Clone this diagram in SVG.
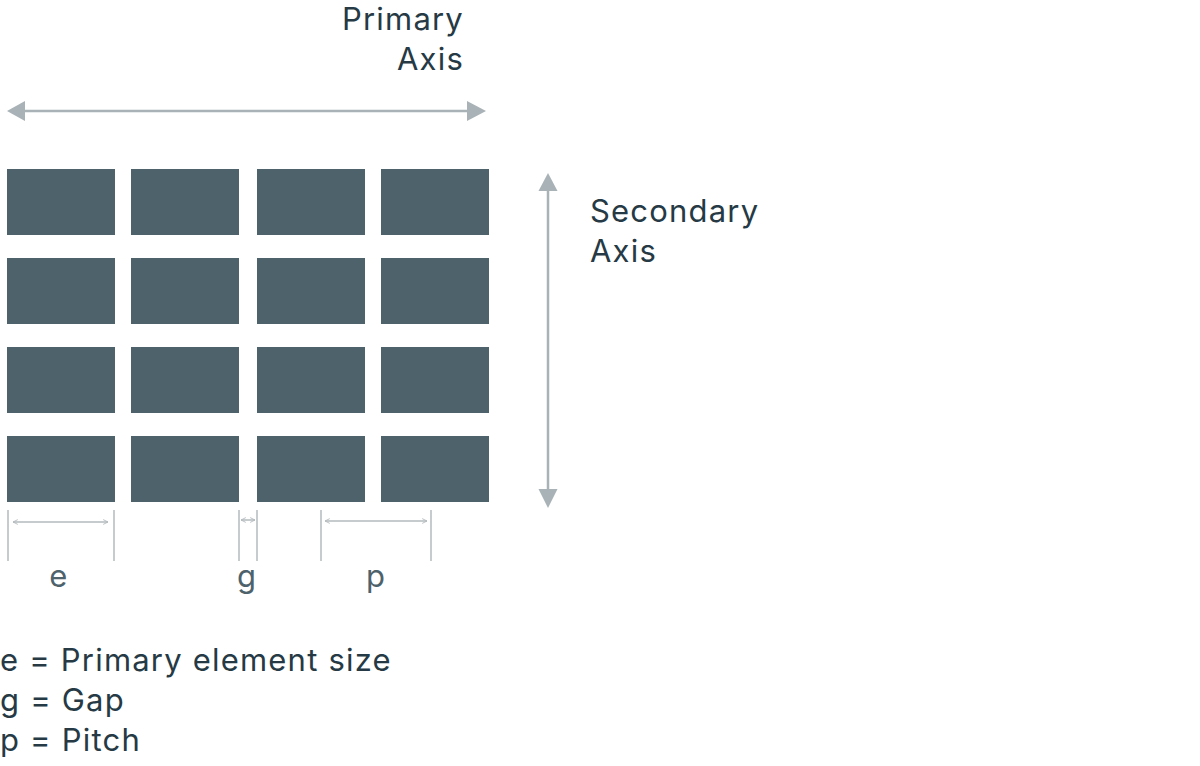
<svg xmlns="http://www.w3.org/2000/svg" width="1200" height="766" viewBox="0 0 1200 766">
<style>
.t{font-family:Inter,"Noto Sans","Liberation Sans",sans-serif;font-size:31px;letter-spacing:1.2px;fill:#263a45}
.lbl{fill:#4d626b}
.cell{fill:#4d626b}
.ax{stroke:#a9b2b6;stroke-width:2.5;fill:none}
.axh{fill:#a9b2b6}
.dim{stroke:#b3babd;stroke-width:1.5;fill:none}
</style>
<defs>
<marker id="sm" viewBox="0 0 10 10" refX="9" refY="5" markerWidth="6" markerHeight="6" orient="auto-start-reverse" markerUnits="userSpaceOnUse">
<path d="M1,1 L9,5 L1,9" fill="none" stroke="#b3babd" stroke-width="1.5"/>
</marker>
</defs>
<rect width="1200" height="766" fill="#ffffff"/>
<g id="grid">
<rect class="cell" x="7" y="169" width="108" height="66"/>
<rect class="cell" x="131" y="169" width="108" height="66"/>
<rect class="cell" x="257" y="169" width="108" height="66"/>
<rect class="cell" x="381" y="169" width="108" height="66"/>
<rect class="cell" x="7" y="258" width="108" height="66"/>
<rect class="cell" x="131" y="258" width="108" height="66"/>
<rect class="cell" x="257" y="258" width="108" height="66"/>
<rect class="cell" x="381" y="258" width="108" height="66"/>
<rect class="cell" x="7" y="347" width="108" height="66"/>
<rect class="cell" x="131" y="347" width="108" height="66"/>
<rect class="cell" x="257" y="347" width="108" height="66"/>
<rect class="cell" x="381" y="347" width="108" height="66"/>
<rect class="cell" x="7" y="436" width="108" height="66"/>
<rect class="cell" x="131" y="436" width="108" height="66"/>
<rect class="cell" x="257" y="436" width="108" height="66"/>
<rect class="cell" x="381" y="436" width="108" height="66"/>
</g>
<g id="primary-axis">
<line class="ax" x1="24" y1="111" x2="468" y2="111"/>
<polygon class="axh" points="7,111 25,101 25,121"/>
<polygon class="axh" points="486,111 467,101 467,121"/>
<text class="t" x="464" y="30" text-anchor="end">Primary</text>
<text class="t" x="464" y="70" text-anchor="end">Axis</text>
</g>
<g id="secondary-axis">
<line class="ax" x1="548" y1="190" x2="548" y2="490"/>
<polygon class="axh" points="548,173 538.5,191 557.5,191"/>
<polygon class="axh" points="548,508 538.5,489 557.5,489"/>
<text class="t" x="590" y="222">Secondary</text>
<text class="t" x="590" y="262">Axis</text>
</g>
<g id="dimensions">
<line class="dim" x1="8" y1="510" x2="8" y2="561"/>
<line class="dim" x1="114" y1="510" x2="114" y2="561"/>
<line class="dim" x1="13" y1="522" x2="108" y2="522" marker-start="url(#sm)" marker-end="url(#sm)"/>
<line class="dim" x1="239" y1="510" x2="239" y2="561"/>
<line class="dim" x1="257" y1="510" x2="257" y2="561"/>
<line class="dim" x1="241" y1="520" x2="255" y2="520" marker-start="url(#sm)" marker-end="url(#sm)"/>
<line class="dim" x1="321" y1="510" x2="321" y2="561"/>
<line class="dim" x1="431" y1="510" x2="431" y2="561"/>
<line class="dim" x1="325" y1="521" x2="427" y2="521" marker-start="url(#sm)" marker-end="url(#sm)"/>
</g>
<g id="dim-labels">
<text class="t lbl" x="59" y="587" text-anchor="middle">e</text>
<text class="t lbl" x="247" y="587" text-anchor="middle">g</text>
<text class="t lbl" x="376" y="587" text-anchor="middle">p</text>
</g>
<g id="legend">
<text class="t" x="0" y="671">e = Primary element size</text>
<text class="t" x="0" y="711">g = Gap</text>
<text class="t" x="0" y="751">p = Pitch</text>
</g>
</svg>
